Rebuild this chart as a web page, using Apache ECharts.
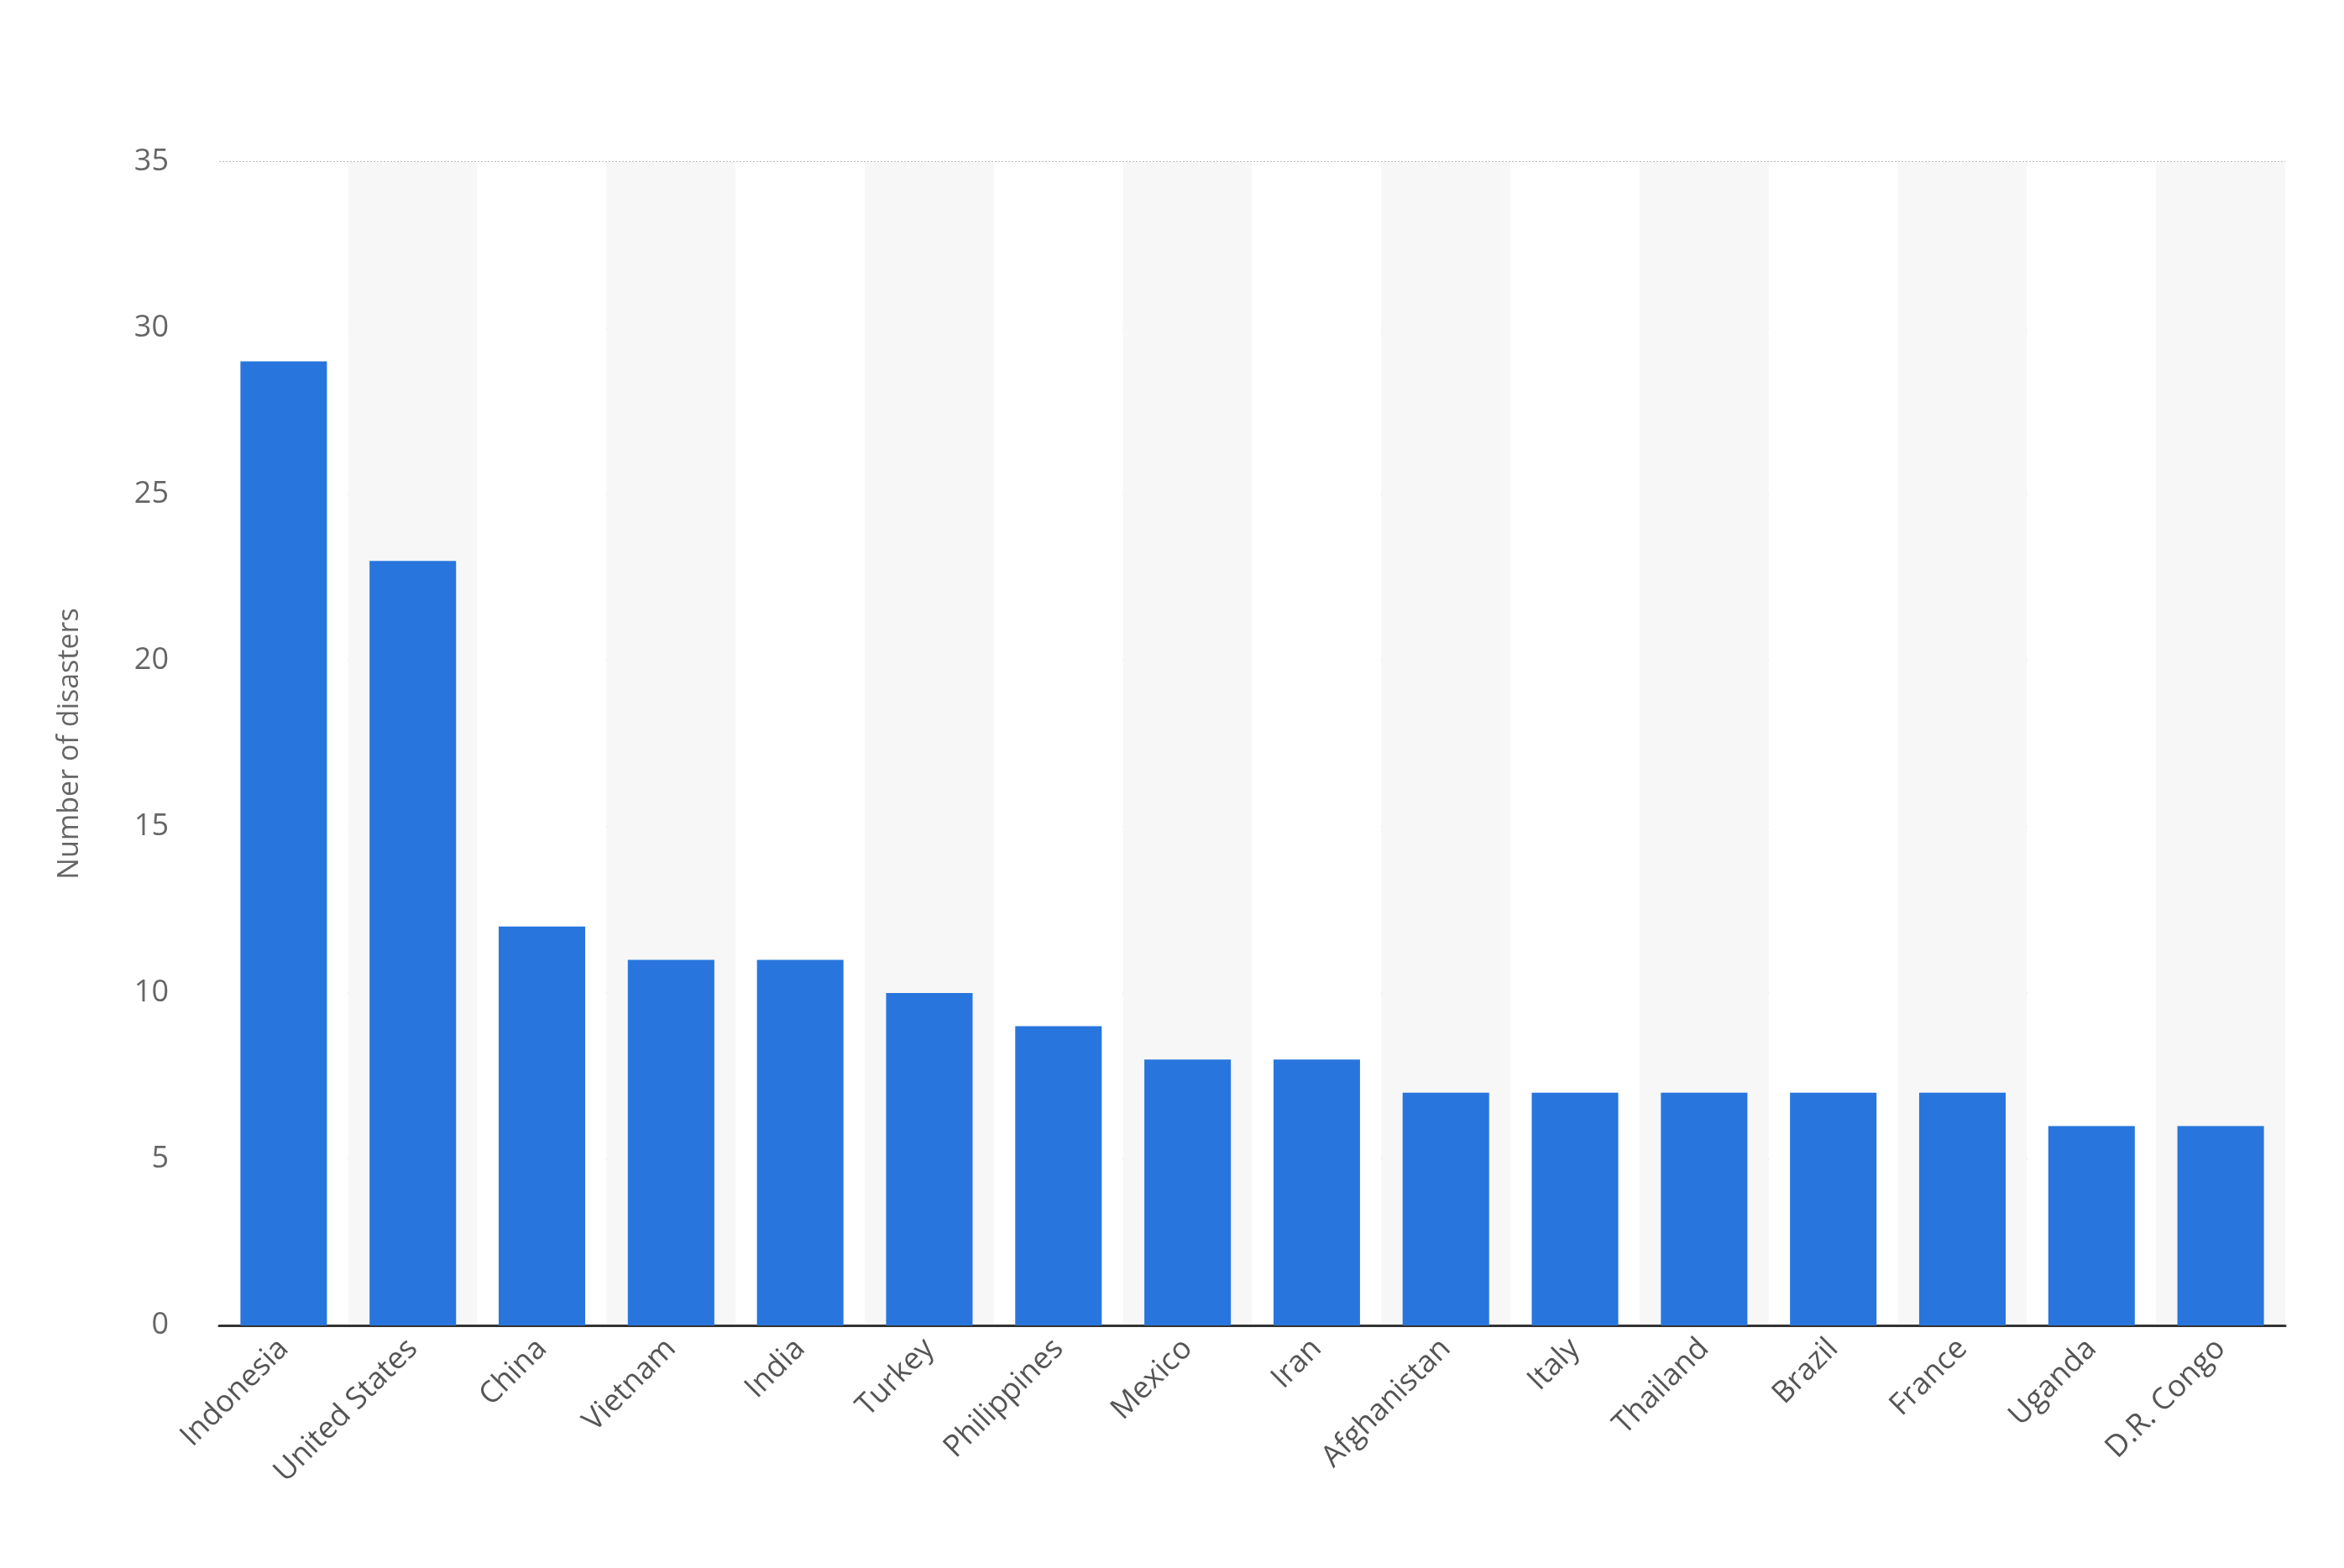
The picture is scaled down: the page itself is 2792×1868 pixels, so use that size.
<html>
<head>
    <script src="https://cdn.jsdelivr.net/npm/echarts@6.0.0/dist/echarts.min.js"></script>
    <style>
        body { margin: 0; background: #fff; }
        #chart { width: 2792px; height: 1868px; }
    </style>
</head>
<body>
    <div id="chart"></div>
    <script>
        const countries = ['Indonesia', 'United States', 'China', 'Vietnam', 'India', 'Turkey', 'Philippines',
            'Mexico', 'Iran', 'Afghanistan', 'Italy', 'Thailand', 'Brazil', 'France', 'Uganda', 'D.R. Congo'];
        const disasters = [29, 23, 12, 11, 11, 10, 9, 8, 8, 7, 7, 7, 7, 7, 6, 6];

        const myChart = echarts.init(document.getElementById('chart'));

        const option = {
            animation: false,
            grid: { left: 261, right: 70, top: 193, bottom: 289 },
            xAxis: {
                type: 'category',
                data: countries,
                axisLine: { lineStyle: { color: '#333', width: 3 } },
                axisTick: { show: false },
                splitArea: { show: true, areaStyle: { color: ['#ffffff', '#f7f7f7'] } },
                axisLabel: {
                    rotate: 45,
                    interval: 0,
                    fontSize: 36,
                    color: '#555',
                    fontFamily: 'Open Sans',
                    margin: 22
                }
            },
            yAxis: {
                type: 'value',
                min: 0,
                max: 35,
                interval: 5,
                name: 'Number of disasters',
                nameLocation: 'middle',
                nameGap: 150,
                nameTextStyle: { fontSize: 34, color: '#666', fontFamily: 'Open Sans' },
                axisLine: { show: false },
                axisTick: { show: false },
                axisLabel: { fontSize: 36, color: '#666', fontFamily: 'Open Sans', margin: 60 },
                splitLine: { lineStyle: { color: '#bbb', type: 'dotted', width: 2 } }
            },
            series: [{
                type: 'bar',
                data: disasters,
                barCategoryGap: '33%',
                itemStyle: { color: '#2876dd' }
            }]
        };

        myChart.setOption(option);
    </script>
</body>
</html>
